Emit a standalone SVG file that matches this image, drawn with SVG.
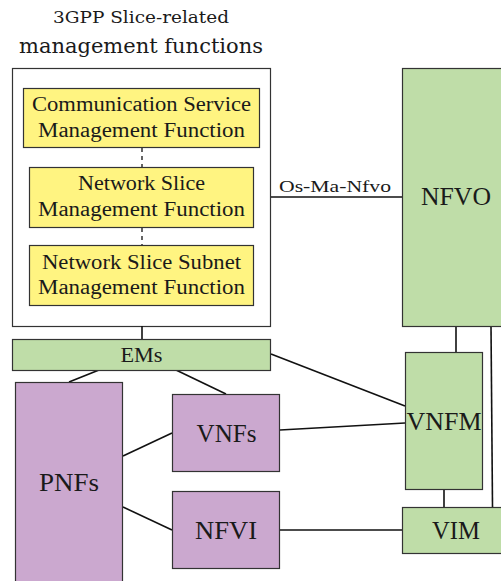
<svg xmlns="http://www.w3.org/2000/svg" width="501" height="581" viewBox="0 0 501 581">
<style>
text{fill:#1a1a1a;text-anchor:middle}
.y{fill:#FFF481;stroke:#333;stroke-width:1.2}
.g{fill:#BFDDA8;stroke:#333;stroke-width:1.2}
.p{fill:#CBA8CF;stroke:#333;stroke-width:1.2}
.w{fill:#fff;stroke:#333;stroke-width:1.2}
.c line{stroke:#111;stroke-width:1.6}
.big{font-size:25px}
</style>
<rect width="501" height="581" fill="#fff"/>
<g font-family="DejaVu Serif, Liberation Serif, serif">
<text x="141" y="23" font-size="17" textLength="176" lengthAdjust="spacingAndGlyphs">3GPP Slice-related</text>
<text x="141" y="53" font-size="21" textLength="244" lengthAdjust="spacingAndGlyphs">management functions</text>
</g>
<g id="slice-mgmt">
<rect class="w" x="12.5" y="68.5" width="258" height="258"/>
</g>
<g id="connectors" class="c">
<line x1="142" y1="148" x2="142" y2="167" stroke-dasharray="4,4" style="stroke-width:1.3"/>
<line x1="142" y1="228" x2="142" y2="245" stroke-dasharray="4,4" style="stroke-width:1.3"/>
<line x1="271" y1="197" x2="402" y2="197"/>
<line x1="142" y1="326" x2="142" y2="339"/>
<line x1="99" y1="370" x2="69" y2="382"/>
<line x1="176" y1="370" x2="226" y2="394"/>
<line x1="271" y1="354" x2="405" y2="406"/>
<line x1="280" y1="430" x2="405" y2="423"/>
<line x1="123" y1="456" x2="172" y2="433"/>
<line x1="123" y1="507" x2="172" y2="530"/>
<line x1="280" y1="530" x2="402" y2="530"/>
<line x1="456" y1="326" x2="456" y2="352"/>
<line x1="491" y1="326" x2="492.5" y2="507"/>
<line x1="444" y1="489" x2="444" y2="507"/>
</g>
<g font-family="Liberation Serif, serif">
<text x="335" y="192" font-size="17" textLength="112" lengthAdjust="spacingAndGlyphs">Os-Ma-Nfvo</text>
<g id="csmf">
<rect class="y" x="23.5" y="88.5" width="236" height="59"/>
<text x="141.5" y="111" font-size="20" textLength="219" lengthAdjust="spacingAndGlyphs">Communication Service</text>
<text x="141.5" y="137" font-size="20" textLength="207" lengthAdjust="spacingAndGlyphs">Management Function</text>
</g>
<g id="nsmf">
<rect class="y" x="29.5" y="167.5" width="224" height="60"/>
<text x="141.5" y="190" font-size="20" textLength="127" lengthAdjust="spacingAndGlyphs">Network Slice</text>
<text x="141.5" y="216" font-size="20" textLength="207" lengthAdjust="spacingAndGlyphs">Management Function</text>
</g>
<g id="nssmf">
<rect class="y" x="29.5" y="245.5" width="224" height="60"/>
<text x="141.5" y="269" font-size="20" textLength="199" lengthAdjust="spacingAndGlyphs">Network Slice Subnet</text>
<text x="141.5" y="294" font-size="20" textLength="207" lengthAdjust="spacingAndGlyphs">Management Function</text>
</g>
<g id="nfvo">
<rect class="g" x="402.5" y="68.5" width="100" height="258"/>
<text class="big" x="456" y="205" textLength="70" lengthAdjust="spacingAndGlyphs">NFVO</text>
</g>
<g id="ems">
<rect class="g" x="12.5" y="339.5" width="258" height="31"/>
<text x="141.5" y="362" font-size="20" textLength="42" lengthAdjust="spacingAndGlyphs">EMs</text>
</g>
<g id="pnfs">
<rect class="p" x="15.5" y="382.5" width="107" height="200"/>
<text class="big" x="69" y="491" textLength="60" lengthAdjust="spacingAndGlyphs">PNFs</text>
</g>
<g id="vnfs">
<rect class="p" x="172.5" y="394.5" width="107" height="77"/>
<text class="big" x="226.5" y="442" textLength="60" lengthAdjust="spacingAndGlyphs">VNFs</text>
</g>
<g id="nfvi">
<rect class="p" x="172.5" y="491.5" width="107" height="77"/>
<text class="big" x="226" y="539" textLength="62" lengthAdjust="spacingAndGlyphs">NFVI</text>
</g>
<g id="vnfm">
<rect class="g" x="405.5" y="352.5" width="77" height="137"/>
<text class="big" x="444" y="430" textLength="75" lengthAdjust="spacingAndGlyphs">VNFM</text>
</g>
<g id="vim">
<rect class="g" x="402.5" y="507.5" width="100" height="46"/>
<text class="big" x="456" y="539" textLength="48" lengthAdjust="spacingAndGlyphs">VIM</text>
</g>
</g>
</svg>
